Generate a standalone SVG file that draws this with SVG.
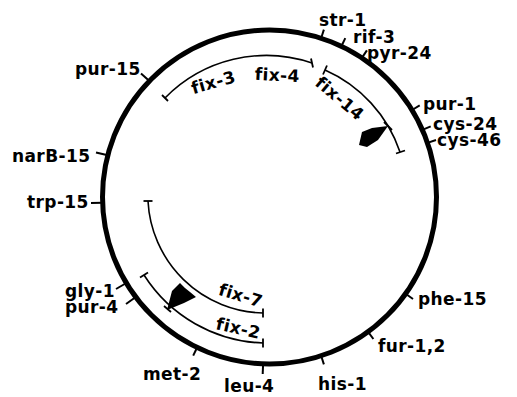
<svg xmlns="http://www.w3.org/2000/svg" width="517" height="397" viewBox="0 0 517 397">
<style>
.lbl{font-family:"DejaVu Sans","Liberation Sans",sans-serif;font-weight:bold;font-size:17px;letter-spacing:0.4px;fill:#000}
.tk{stroke:#000;stroke-width:2;fill:none}
.arc{stroke:#000;stroke-width:1.6;fill:none}
.bar{stroke:#000;stroke-width:1.8}
</style>
<rect width="517" height="397" fill="#fff"/>
<g id="chromosome">
<circle cx="269.5" cy="197" r="167" fill="none" stroke="#000" stroke-width="5"/>
</g>
<g id="markers">
<g id="str-1"><line class="tk" x1="321.1" y1="38.2" x2="323.9" y2="29.6"/><text class="lbl" x="319" y="26">str-1</text></g>
<g id="rif-3"><line class="tk" x1="341.4" y1="46.3" x2="345.3" y2="38.1"/><text class="lbl" x="353" y="43">rif-3</text></g>
<g id="pyr-24"><line class="tk" x1="361.9" y1="57.9" x2="366.9" y2="50.4"/><text class="lbl" x="367" y="59">pyr-24</text></g>
<g id="pur-1"><line class="tk" x1="412.1" y1="110" x2="419.7" y2="105.3"/><text class="lbl" x="423" y="110">pur-1</text></g>
<g id="cys-24"><line class="tk" x1="422.4" y1="129.9" x2="430.7" y2="126.3"/><text class="lbl" x="433" y="130">cys-24</text></g>
<g id="cys-46"><line class="tk" x1="427.5" y1="142.9" x2="436" y2="140"/><text class="lbl" x="437" y="146">cys-46</text></g>
<g id="phe-15"><line class="tk" x1="405.6" y1="293.7" x2="413" y2="299"/><text class="lbl" x="418" y="305">phe-15</text></g>
<g id="fur-1-2"><line class="tk" x1="368.1" y1="331.8" x2="373.4" y2="339"/><text class="lbl" x="378" y="352">fur-1,2</text></g>
<g id="his-1"><line class="tk" x1="321.1" y1="355.8" x2="323.9" y2="364.4"/><text class="lbl" x="318" y="390">his-1</text></g>
<g id="leu-4"><line class="tk" x1="263.1" y1="363.9" x2="262.7" y2="374"/><text class="lbl" x="224" y="392">leu-4</text></g>
<g id="met-2"><line class="tk" x1="197.1" y1="347.5" x2="193.2" y2="355.6"/><text class="lbl" x="143" y="380">met-2</text></g>
<g id="pur-4"><line class="tk" x1="135.8" y1="297" x2="126" y2="304"/><text class="lbl" x="65" y="313">pur-4</text></g>
<g id="gly-1"><line class="tk" x1="126.4" y1="283" x2="116" y2="289"/><text class="lbl" x="65" y="297">gly-1</text></g>
<g id="trp-15"><line class="tk" x1="102.6" y1="202.8" x2="91" y2="203.1"/><text class="lbl" x="27" y="208">trp-15</text></g>
<g id="narB-15"><line class="tk" x1="107.8" y1="155.2" x2="96" y2="152.5"/><text class="lbl" x="12" y="162">narB-15</text></g>
<g id="pur-15"><line class="tk" x1="149.4" y1="81" x2="141" y2="73.5"/><text class="lbl" x="75" y="75">pur-15</text></g>
</g>
<g id="connectors">
<g id="fix-3-4">
<path class="arc" d="M165,98 A142,142 0 0,1 312,63"/>
<line class="bar" x1="162" y1="95" x2="168" y2="101"/>
<line class="bar" x1="311" y1="58.5" x2="313" y2="67.5"/>
<text class="lbl" x="215" y="88" text-anchor="middle" transform="rotate(-16 215 88)">fix-3</text>
<text class="lbl" x="277" y="81" text-anchor="middle" transform="rotate(3 277 81)">fix-4</text>
</g>
<g id="fix-14">
<path class="arc" d="M325,70 A138,138 0 0,1 400,152"/>
<line class="bar" x1="323" y1="74.5" x2="327" y2="65.5"/>
<line class="bar" x1="396" y1="153.5" x2="405" y2="150.5"/>
<line class="bar" x1="384" y1="122" x2="392" y2="130"/>
<polygon points="388,126 372,128 362,132 359,145 367,147 378,140" fill="#000"/>
<text class="lbl" x="336" y="103" text-anchor="middle" transform="rotate(40 336 103)">fix-14</text>
</g>
<g id="fix-7">
<path class="arc" d="M148,201 A118,118 0 0,0 263,313"/>
<line class="bar" x1="143.5" y1="201" x2="152.5" y2="201"/>
<line class="bar" x1="263" y1="308.5" x2="263" y2="317.5"/>
<text class="lbl" x="239" y="301" text-anchor="middle" transform="rotate(17 239 301)">fix-7</text>
</g>
<g id="fix-2">
<path class="arc" d="M144,275 A147,147 0 0,0 263,343"/>
<line class="bar" x1="140" y1="277.5" x2="148" y2="272.5"/>
<line class="bar" x1="263" y1="338.5" x2="263" y2="347.5"/>
<line class="bar" x1="164" y1="306" x2="171" y2="312"/>
<polygon points="167,310 172,291 180,283 185,288 190,292 196,297 184,303" fill="#000"/>
<text class="lbl" x="237" y="334" text-anchor="middle" transform="rotate(13 237 334)">fix-2</text>
</g>
</g>
</svg>
